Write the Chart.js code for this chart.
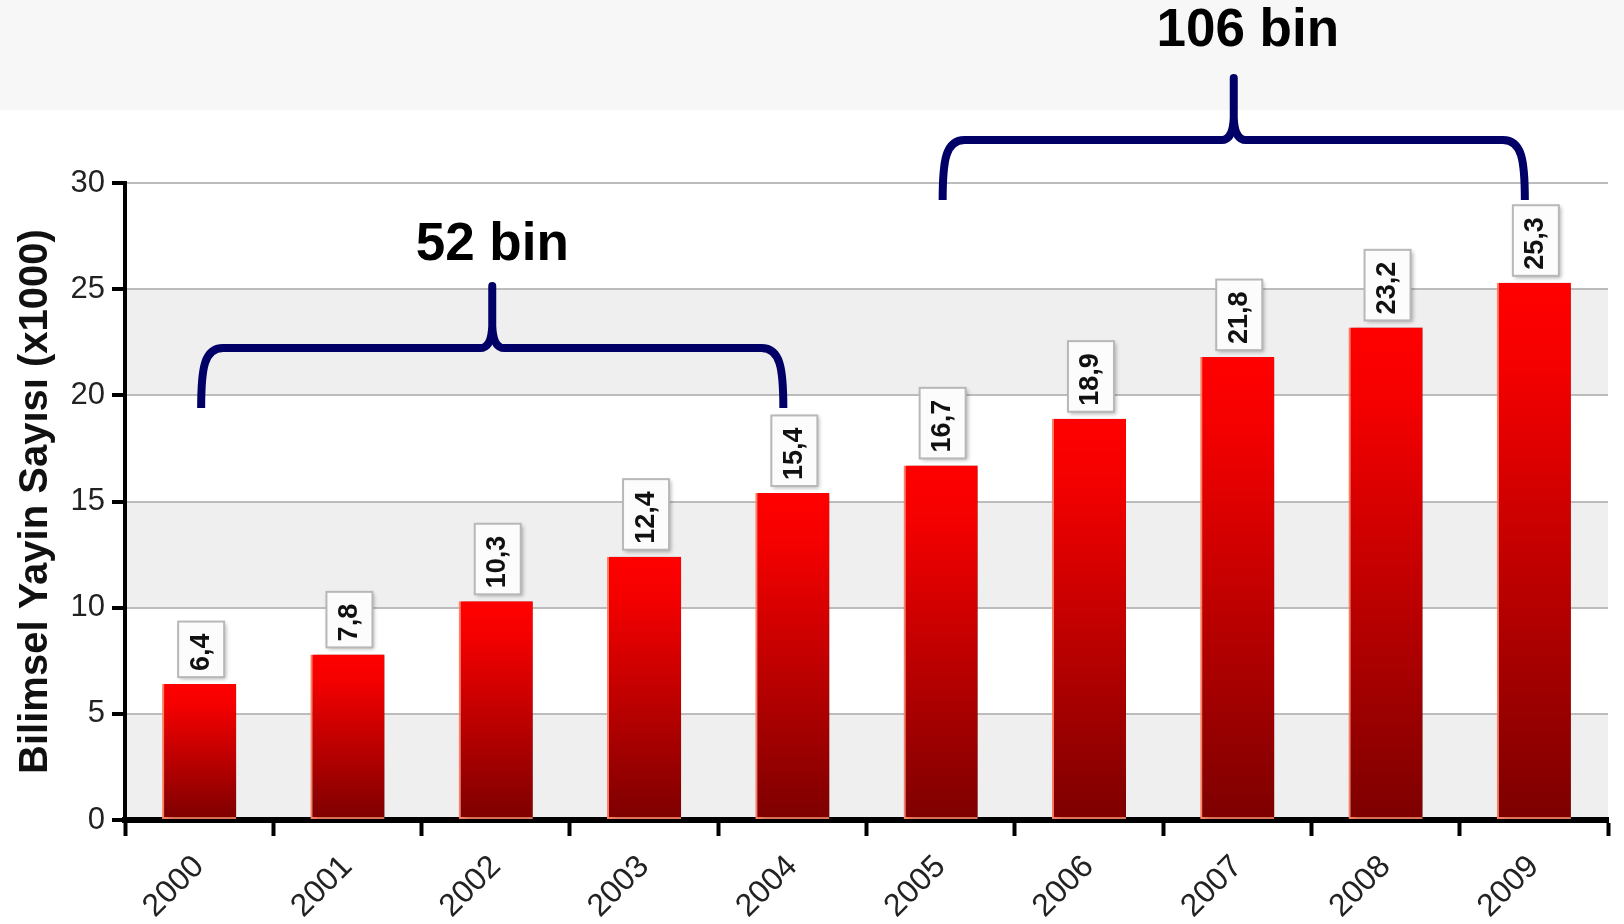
<!DOCTYPE html>
<html>
<head>
<meta charset="utf-8">
<title>Bilimsel Yayın Sayısı</title>
<script src="https://cdn.jsdelivr.net/npm/chart.js@4.4.1/dist/chart.umd.min.js"></script>
<style>
  html, body { margin: 0; padding: 0; background: #fff; }
  #wrap { position: relative; width: 1624px; height: 924px; }
</style>
</head>
<body>
<div id="wrap"><canvas id="chart"></canvas></div>
<script>
  // data
  const YEARS = ['2000', '2001', '2002', '2003', '2004', '2005', '2006', '2007', '2008', '2009'];
  const PUBLICATIONS = [6.4, 7.8, 10.3, 12.4, 15.4, 16.7, 18.9, 21.8, 23.2, 25.3];
  const Y_TICKS = [0, 5, 10, 15, 20, 25, 30];
  const BRACE_RANGES = [[0, 4], [5, 9]];
  const BRACE_LABELS = ['52 bin', '106 bin'];

  const FONT = '"Liberation Sans", Arial, sans-serif';
  const NAVY = '#000066';

  const fmt = (v) => v.toFixed(1).replace('.', ',');

  // page strip + alternating bands behind the grid
  const backdrop = {
    id: 'backdrop',
    beforeDraw(chart) {
      const { ctx, chartArea: a, scales: { y } } = chart;
      ctx.save();
      ctx.fillStyle = '#f7f7f7';
      ctx.fillRect(0, 0, chart.width, 110);
      ctx.fillStyle = '#efefef';
      for (let i = 0; i < Y_TICKS.length - 1; i += 2) {
        const top = y.getPixelForValue(Y_TICKS[i + 1]);
        const bot = y.getPixelForValue(Y_TICKS[i]);
        ctx.fillRect(a.left, top, a.right - a.left, bot - top);
      }
      ctx.restore();
    },
  };

  const barShadow = {
    id: 'barShadow',
    beforeDatasetsDraw(chart) {
      const ctx = chart.ctx;
      ctx.save();
      ctx.shadowColor = 'rgba(0,0,0,0.4)';
      ctx.shadowOffsetX = 4;
      ctx.shadowOffsetY = 0;
      ctx.shadowBlur = 5;
    },
    afterDatasetsDraw(chart) {
      chart.ctx.restore();
    },
  };

  // rotated value boxes above each bar
  const valueBoxes = {
    id: 'valueBoxes',
    afterDatasetsDraw(chart) {
      const ctx = chart.ctx;
      const meta = chart.getDatasetMeta(0);
      ctx.save();
      ctx.font = 'bold 27px ' + FONT;
      meta.data.forEach((bar, i) => {
        const text = fmt(PUBLICATIONS[i]);
        const tw = ctx.measureText(text).width;
        const w = 46;
        const h = tw + 18;
        const left = bar.x - w / 2 + 2;
        const top = bar.y - 7 - h;
        ctx.save();
        ctx.shadowColor = 'rgba(0,0,0,0.3)';
        ctx.shadowOffsetX = 2;
        ctx.shadowOffsetY = 2;
        ctx.shadowBlur = 4;
        ctx.fillStyle = '#fcfcfc';
        ctx.fillRect(left, top, w, h);
        ctx.restore();
        ctx.strokeStyle = '#b8b8b8';
        ctx.lineWidth = 2;
        ctx.strokeRect(left, top, w, h);
        ctx.save();
        ctx.translate(left + w / 2, top + h / 2 + 3);
        ctx.rotate(-Math.PI / 2);
        ctx.fillStyle = '#111';
        ctx.textAlign = 'center';
        ctx.textBaseline = 'middle';
        ctx.fillText(text, 0, 0);
        ctx.restore();
      });
      ctx.restore();
    },
  };

  function drawBrace(ctx, x1, x2, yBot) {
    const yH = yBot - 60;
    const yTop = yBot - 122;
    const xm = (x1 + x2) / 2;
    ctx.beginPath();
    ctx.moveTo(x1, yBot);
    ctx.bezierCurveTo(x1, yH + 20, x1 + 3, yH, x1 + 22, yH);
    ctx.lineTo(xm - 12, yH);
    ctx.quadraticCurveTo(xm - 1, yH, xm, yH - 22);
    ctx.lineTo(xm, yTop);
    ctx.lineTo(xm, yH - 22);
    ctx.quadraticCurveTo(xm + 1, yH, xm + 12, yH);
    ctx.lineTo(x2 - 22, yH);
    ctx.bezierCurveTo(x2 - 3, yH, x2, yH + 20, x2, yBot);
    ctx.stroke();
    return { xm, yTop };
  }

  const braces = {
    id: 'braces',
    afterDraw(chart) {
      const { ctx, scales: { x, y } } = chart;
      const bottoms = [19.4, 29.2];
      ctx.save();
      ctx.strokeStyle = NAVY;
      ctx.lineWidth = 8;
      ctx.lineJoin = 'round';
      ctx.lineCap = 'butt';
      BRACE_RANGES.forEach(([from, to], i) => {
        const x1 = x.getPixelForValue(from) + 2;
        const x2 = x.getPixelForValue(to) - 9;
        const { xm, yTop } = drawBrace(ctx, x1, x2, y.getPixelForValue(bottoms[i]));
        ctx.fillStyle = '#000';
        ctx.font = 'bold 53px ' + FONT;
        ctx.textAlign = 'center';
        ctx.textBaseline = 'alphabetic';
        ctx.fillText(BRACE_LABELS[i], xm + (i === 1 ? 14 : 0), yTop - (i === 1 ? 32 : 26));
      });
      ctx.restore();
    },
  };

  const ctx = document.getElementById('chart').getContext('2d');
  new Chart(ctx, {
    type: 'bar',
    data: {
      labels: YEARS,
      datasets: [
        {
          label: 'Bilimsel Yayın Sayısı',
          data: PUBLICATIONS,
          barPercentage: 0.5,
          categoryPercentage: 1,
          backgroundColor: (c) => {
            const chart = c.chart;
            const y = chart.scales.y;
            if (!chart.chartArea || !y || c.raw == null) return '#c00';
            const top = y.getPixelForValue(c.raw);
            const bot = y.getPixelForValue(0);
            const g = chart.ctx.createLinearGradient(0, top, 0, bot);
            g.addColorStop(0, '#ff0000');
            g.addColorStop(0.15, '#f50000');
            g.addColorStop(1, '#7d0000');
            return g;
          },
          borderColor: '#ff8060',
          borderWidth: { left: 2, bottom: 2, top: 0, right: 0 },
          borderSkipped: false,
        },
      ],
    },
    options: {
      responsive: true,
      maintainAspectRatio: false,
      animation: false,
      layout: { padding: { top: 183, right: 16, left: 0, bottom: 0 } },
      plugins: {
        legend: { display: false },
        tooltip: { enabled: false },
      },
      scales: {
        x: {
          grid: {
            drawOnChartArea: false,
            drawTicks: true,
            tickLength: 16,
            tickColor: '#000',
            tickWidth: 4,
          },
          border: { color: '#000', width: 6 },
          ticks: {
            color: '#222',
            font: { family: FONT, size: 32 },
            maxRotation: 45,
            minRotation: 45,
            autoSkip: false,
            padding: 12,
          },
          afterFit: (s) => { s.height = 104; },
        },
        y: {
          min: 0,
          max: 30,
          grid: {
            color: '#bcbcbc',
            lineWidth: 2,
            drawTicks: true,
            tickLength: 13,
            tickColor: '#000',
            tickWidth: 4,
          },
          border: { color: '#000', width: 4 },
          afterBuildTicks: (s) => { s.ticks = Y_TICKS.map((v) => ({ value: v })); },
          ticks: {
            color: '#222',
            font: { family: FONT, size: 31 },
            padding: 7,
          },
          title: {
            display: true,
            text: 'Bilimsel Yayin Sayısı (x1000)',
            color: '#111',
            font: { family: FONT, size: 40, weight: 'bold' },
            padding: { top: 12, bottom: 0 },
          },
          afterFit: (s) => { s.width = 125; },
        },
      },
    },
    plugins: [backdrop, barShadow, valueBoxes, braces],
  });
</script>
</body>
</html>
